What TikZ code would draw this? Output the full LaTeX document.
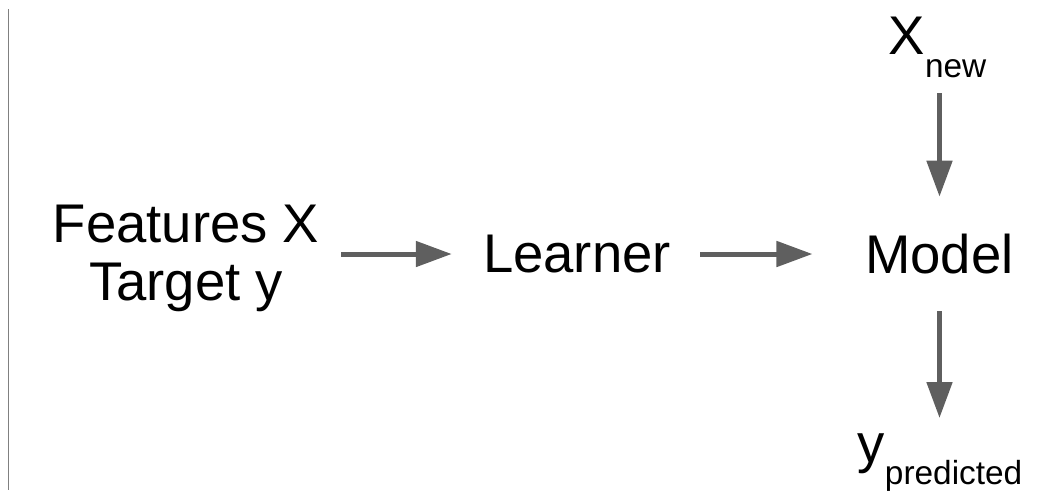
\documentclass[tikz,border=0pt]{standalone}
\usepackage{fontspec}
\setmainfont{Liberation Sans}
\usetikzlibrary{arrows.meta}
\definecolor{arrowgray}{RGB}{95,95,95}
\newcommand{\lowsub}[1]{\raisebox{-13pt}{\fontsize{19}{19}\selectfont #1}}

\begin{document}
\begin{tikzpicture}[
  lbl/.style={inner sep=0pt, font=\fontsize{31}{33}\selectfont},
  arr/.style={arrowgray, line width=0.1 cm, -{Triangle[length=0.72cm,width=0.5cm]}}
]
\useasboundingbox (0,0) rectangle (21.16,-9.8);
\draw[gray, line width=0.02 cm] (0.17,-0.18) -- (0.17,-9.8);

\node[lbl, align=center, anchor=north] (feat) at (3.72,-4.1) {Features X\\Target y};
\node[lbl] (learner) at (11.54,-5.08) {Learner};
\node[lbl] (model) at (18.79,-5.08) {Model};
\node[lbl, anchor=south] (xnew) at (18.75,-1.56) {X\lowsub{new}};
\node[lbl, anchor=north] (ypred) at (18.8,-8.66) {y\lowsub{predicted}};

\draw[arr, shorten <=0.43cm, shorten >=0.62cm] (feat.east |- learner) -- (learner.west);
\draw[arr, shorten <=0.58cm, shorten >=1.05cm] (learner.east) -- (model.west);
\draw[arr, shorten <=0.3cm, shorten >=0.74cm] (xnew.south -| model.north) -- (model.north);
\draw[arr, shorten <=0.74cm, shorten >=0.3cm] (model.south) -- (ypred.north -| model.south);

\end{tikzpicture}
\end{document}
